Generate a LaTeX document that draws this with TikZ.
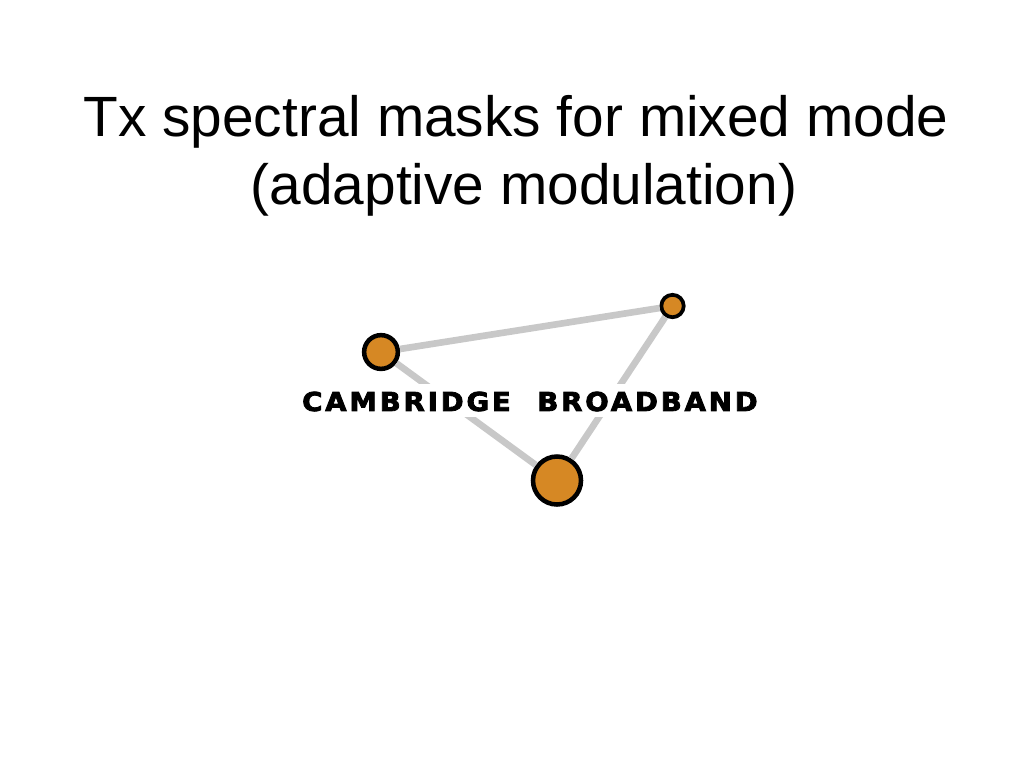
\documentclass[tikz,border=0pt]{standalone}
\usepackage{fontspec}
\setmainfont{Liberation Sans}
\newfontfamily\logofont[FakeBold=3.2,FakeStretch=1.06,LetterSpace=11]{DejaVu Sans Bold}
\definecolor{hubfill}{RGB}{214,136,36}
\definecolor{linkgrey}{RGB}{200,200,200}
\tikzset{
  hub/.style={circle,draw=black,line width=3.4pt,fill=hubfill,inner sep=0pt},
  link/.style={draw=linkgrey,line width=5pt},
  titletext/.style={font=\fontsize{42.6}{50}\selectfont,anchor=center},
  logotext/.style={font=\logofont\fontsize{19.5}{22}\selectfont,anchor=center,inner sep=0pt}
}
\begin{document}
\begin{tikzpicture}[x=0.75pt,y=-0.75pt]
\useasboundingbox (0,0) rectangle (1024,768);
\node[titletext] (t1) at (516,122) {Tx spectral masks for mixed mode};
\node[titletext] (t2) at (524,190) {(adaptive modulation)};
\node[hub,minimum size=25.3pt] (a) at (381,352) {};
\node[hub,minimum size=16.8pt,line width=2.8pt] (b) at (672.5,306) {};
\node[hub,minimum size=36pt] (c) at (557,480.5) {};
\draw[link] (a) -- (b);
\draw[link] (b) -- (c);
\draw[link] (c) -- (a);
\fill[white] (295,384) rectangle (765,417);
\node[logotext] (l1) at (406.5,401.5) {CAMBRIDGE};
\node[logotext] (l2) at (647.5,401.5) {BROADBAND};
\end{tikzpicture}
\end{document}
